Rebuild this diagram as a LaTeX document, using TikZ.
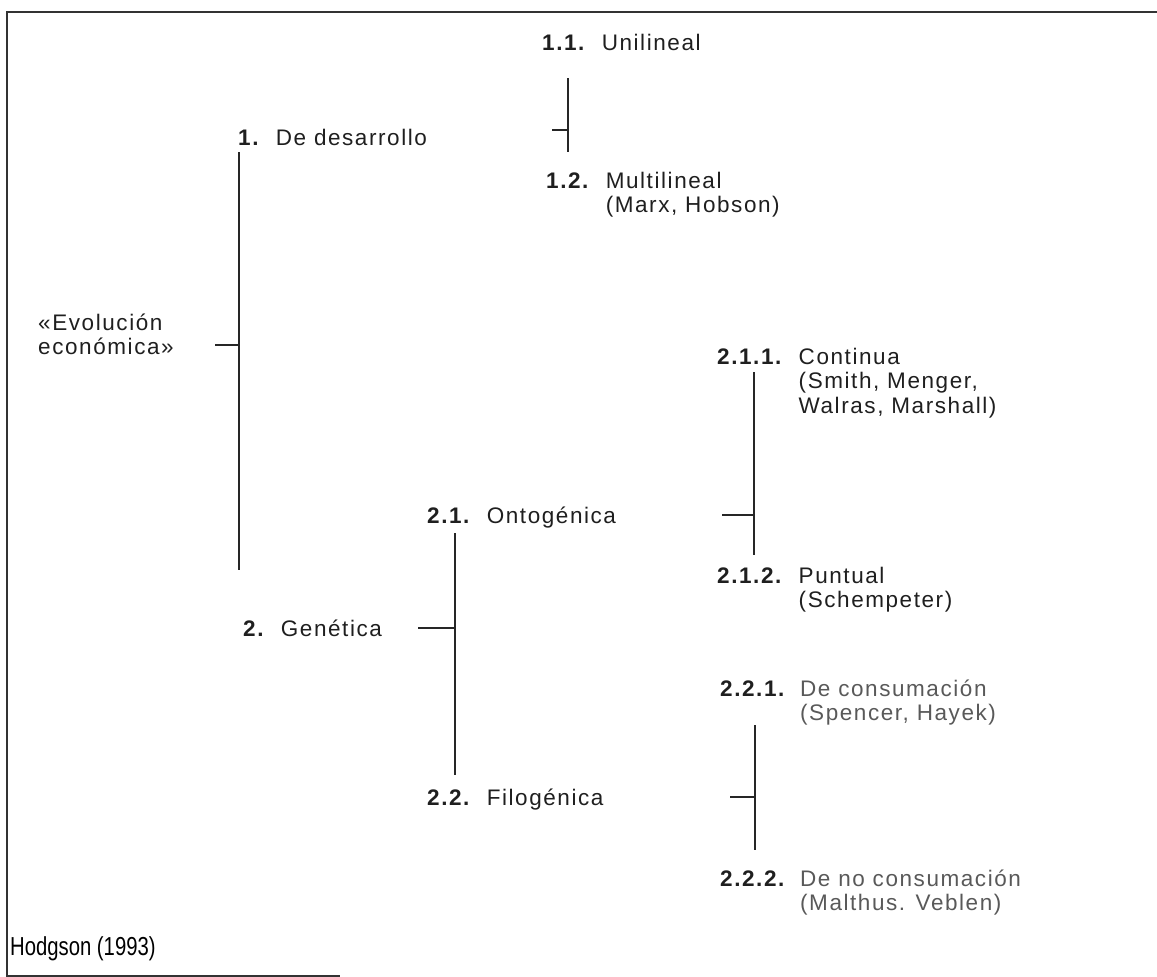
\documentclass[tikz,border=0pt]{standalone}
\usepackage{fontspec}
\setmainfont{Liberation Sans}
\newfontfamily\spaced[LetterSpace=7]{Liberation Sans}
\begin{document}
\begin{tikzpicture}[x=1pt,y=-1pt,
  lbl/.style={anchor=base west,inner sep=0pt,text=black!88,font=\fontsize{22.5}{24.5}\spaced},
  dim/.style={lbl,text=black!65},
  src/.style={anchor=base west,inner sep=0pt,font=\fontsize{26}{30}\selectfont},
  trunk/.style={line width=1.9pt,black!85},
  twig/.style={line width=1.4pt,black!85},
  frame/.style={line width=1.2pt,black!80}]
\useasboundingbox (0,0) rectangle (1157,977);
% open frame: top, left and a short piece of the bottom
\draw[frame] (1157,12) -- (7,12) -- (7,976) -- (340,976);

% item with a bold number and a hanging text column
\newcommand{\itm}[2]{\begin{tabular}[t]{@{}l@{\hspace{0.7em}}l@{}}\textbf{#1} & #2\end{tabular}}

\node[lbl] (ev) at (38,330) {\begin{tabular}[t]{@{}l@{}}«Evolución\\económica»\end{tabular}};
\node[lbl] (d1) at (238,145) {\itm{1.}{De desarrollo}};
\node[lbl] (d11) at (542,50) {\itm{1.1.}{Unilineal}};
\node[lbl] (d12) at (546,188) {\itm{1.2.}{Multilineal\\ & (Marx, Hobson)}};
\node[lbl] (d2) at (243,636) {\itm{2.}{Genética}};
\node[lbl] (d21) at (427,523) {\itm{2.1.}{Ontogénica}};
\node[lbl] (d22) at (427,805) {\itm{2.2.}{Filogénica}};
\node[lbl] (d211) at (717,364) {\itm{2.1.1.}{Continua\\ & (Smith, Menger,\\ & Walras, Marshall)}};
\node[lbl] (d212) at (717,583) {\itm{2.1.2.}{Puntual\\ & (Schempeter)}};
\node[dim] (d221) at (720,696) {\itm{\color{black!88}2.2.1.}{De consumación\\ & (Spencer, Hayek)}};
\node[dim] (d222) at (720,886) {\itm{\color{black!88}2.2.2.}{De no consumación\\ & (Malthus. Veblen)}};
\node[src] (hs) at (10,955) {\scalebox{0.78}[1]{Hodgson (1993)}};

% bracket joints and free tick ends
\coordinate (ja) at (239,345);  \coordinate (ta) at (215,345);
\coordinate (jb) at (568,130);  \coordinate (tb) at (552,130);
\coordinate (jc) at (455,628);  \coordinate (tc) at (418,628);
\coordinate (jd) at (754,515);  \coordinate (td) at (722,515);
\coordinate (je) at (755,797);  \coordinate (te) at (730,797);

% root bracket: 1. and 2.
\draw[trunk] (239,152) -- (239,570);
\draw[twig] (ta) -- (ja);
% bracket of 1.: 1.1. and 1.2.
\draw[trunk] (568,78) -- (568,152);
\draw[twig] (tb) -- (jb);
% bracket of 2.: 2.1. and 2.2.
\draw[trunk] (455,533) -- (455,775);
\draw[twig] (tc) -- (jc);
% bracket of 2.1.: 2.1.1. and 2.1.2.
\draw[trunk] (754,372) -- (754,555);
\draw[twig] (td) -- (jd);
% bracket of 2.2.: 2.2.1. and 2.2.2.
\draw[trunk] (755,725) -- (755,850);
\draw[twig] (te) -- (je);
\end{tikzpicture}
\end{document}
